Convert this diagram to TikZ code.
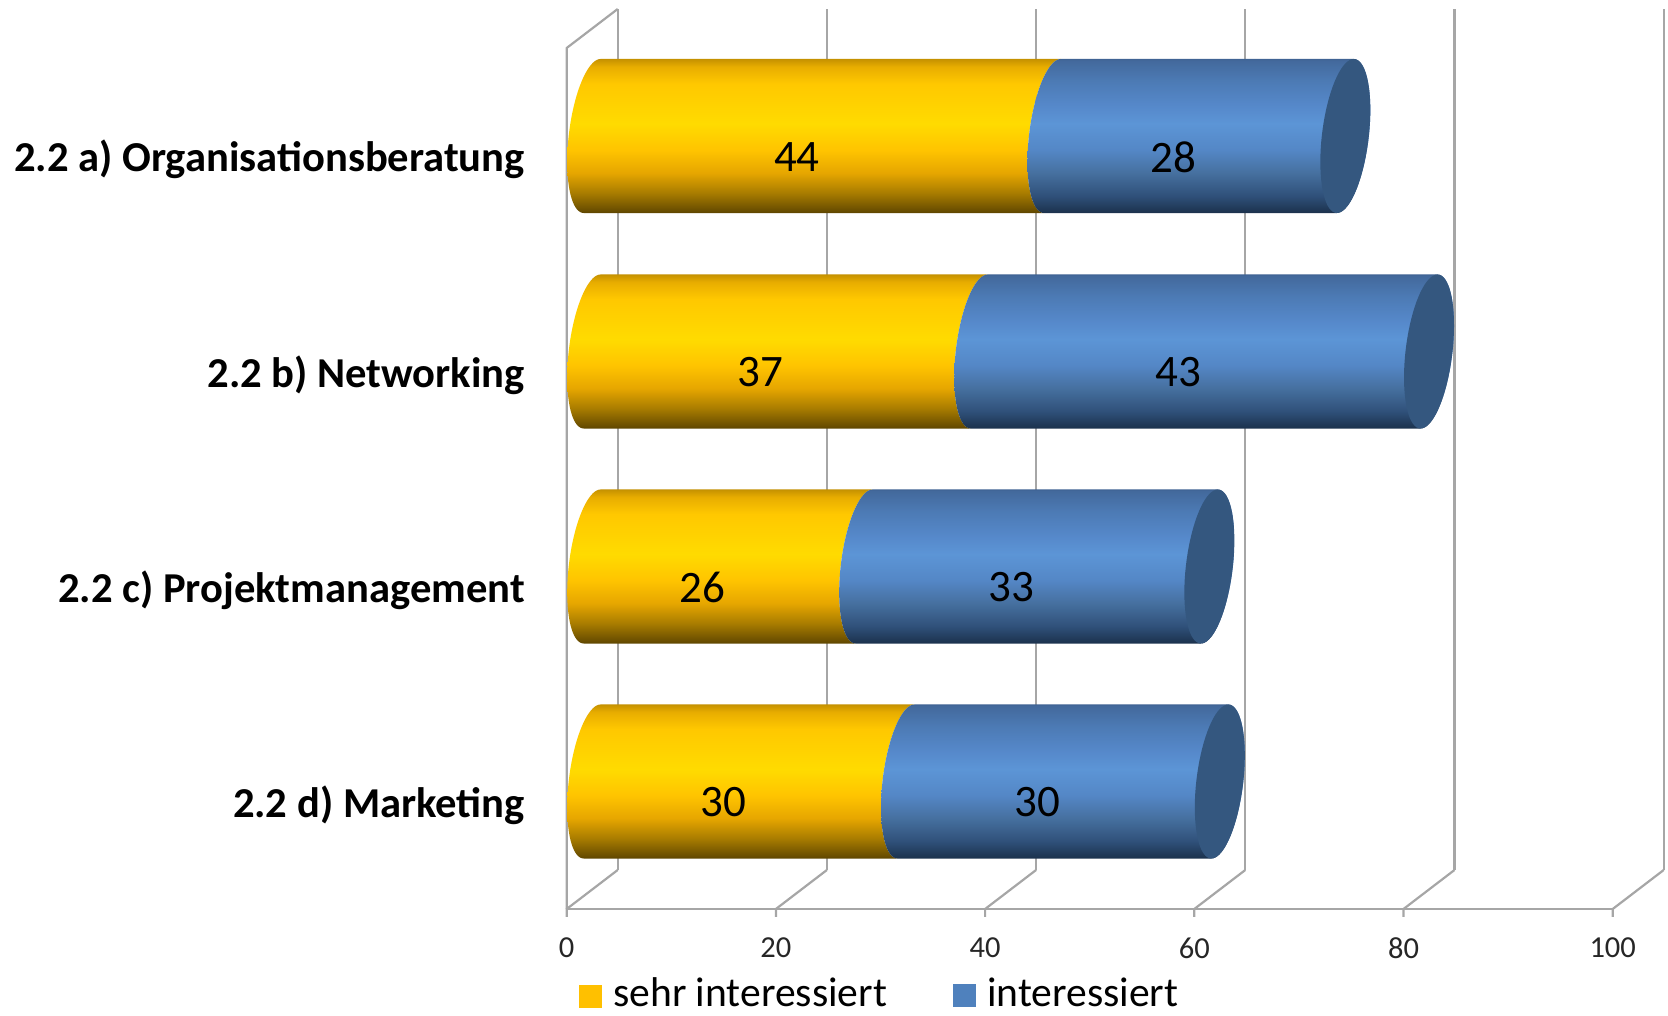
\documentclass[tikz,border=0pt]{standalone}
\usepackage{fontspec}
\setmainfont{Carlito}
\usepackage{xcolor}
\usepackage{tikz}
\usetikzlibrary{positioning, calc}
\definecolor{gridgray}{HTML}{A6A6A6}
\definecolor{sehrgold}{HTML}{FFC000}
\definecolor{interblue}{HTML}{4F81BD}
\definecolor{capblue}{HTML}{34577F}
\definecolor{goldA}{HTML}{5E4500}
\definecolor{goldB}{HTML}{6B4F00}
\definecolor{goldC}{HTML}{A87C00}
\definecolor{goldD}{HTML}{E6A600}
\definecolor{goldE}{HTML}{FFC400}
\definecolor{goldF}{HTML}{FFDB00}
\definecolor{goldG}{HTML}{FFC800}
\definecolor{goldH}{HTML}{E8AD00}
\definecolor{goldI}{HTML}{C59100}
\definecolor{blueA}{HTML}{1C324E}
\definecolor{blueB}{HTML}{1D3450}
\definecolor{blueC}{HTML}{2F5079}
\definecolor{blueD}{HTML}{46709F}
\definecolor{blueE}{HTML}{5487C6}
\definecolor{blueF}{HTML}{5C95D6}
\definecolor{blueG}{HTML}{5689CB}
\definecolor{blueH}{HTML}{4C7AB4}
\definecolor{blueI}{HTML}{43699C}
\definecolor{blueJ}{HTML}{3F6394}
\pgfdeclareverticalshading{goldcyl}{100bp}{color(0bp)=(goldA); color(25bp)=(goldA);
  color(26bp)=(goldB); color(31.5bp)=(goldC); color(38bp)=(goldD); color(45.5bp)=(goldE);
  color(54bp)=(goldF); color(67bp)=(goldG); color(72.5bp)=(goldH); color(75bp)=(goldI);
  color(100bp)=(goldI)}
\pgfdeclareverticalshading{bluecyl}{100bp}{color(0bp)=(blueA); color(25bp)=(blueA);
  color(25.5bp)=(blueB); color(30.5bp)=(blueC); color(38bp)=(blueD); color(45.5bp)=(blueE);
  color(54bp)=(blueF); color(59.5bp)=(blueG); color(68bp)=(blueH); color(74.5bp)=(blueI);
  color(75bp)=(blueJ); color(100bp)=(blueJ)}

\begin{document}
\begin{tikzpicture}[x=1pt, y=1pt,
    grid line/.style={draw=gridgray, line width=2.2pt, line join=round},
    value label/.style={font=\fontsize{45}{54}\selectfont},
    cat label/.style={font=\bfseries\fontsize{42.6}{50}\selectfont, anchor=base east, inner sep=0pt},
    tick label/.style={font=\fontsize{30.5}{36}\selectfont, text=black!85},
    legend label/.style={font=\fontsize{41.6}{50}\selectfont, anchor=base west, inner sep=0pt}]
  \useasboundingbox (0,0) rectangle (1668,1016);

  \foreach \v in {0,20,...,100} {
    \draw[grid line] ({617.7+10.46*\v},146) -- ({617.7+10.46*\v},1007);
    \draw[grid line] ({566.7+10.46*\v},99) -- ({566.7+10.46*\v},107) -- ({617.7+10.46*\v},146);
    \node[tick label] (tick-\v) at ({566.7+10.46*\v},68) {\v};
  }
  \draw[grid line] (566.7,107) -- (1612.7,107);
  \draw[grid line] (617.7,1007) -- (566.7,968) -- (566.7,107);

  \foreach \name/\first/\second/\yc/\cat in {a/44/28/880/2.2 a) Organisationsberatung,
      b/37/43/664.5/2.2 b) Networking, c/26/33/449.5/2.2 c) Projektmanagement,
      d/30/30/234.5/2.2 d) Marketing} {
    \pgfmathsetmacro\xs{592.2+10.46*\first}
    \pgfmathsetmacro\xe{592.2+10.46*(\first+\second)}
    \shade[shading=goldcyl]
      plot[domain=70.2:250.2, samples=41, variable=\t] ({592.2+25*cos(\t)}, {\yc+26*cos(\t)+72.5*sin(\t)})
      -- plot[domain=250.2:70.2, samples=41, variable=\t] ({\xs+25*cos(\t)}, {\yc+26*cos(\t)+72.5*sin(\t)})
      -- cycle;
    \shade[shading=bluecyl]
      plot[domain=70.2:250.2, samples=41, variable=\t] ({\xs+25*cos(\t)}, {\yc+26*cos(\t)+72.5*sin(\t)})
      -- plot[domain=250.2:430.2, samples=41, variable=\t] ({\xe+25*cos(\t)}, {\yc+26*cos(\t)+72.5*sin(\t)})
      -- cycle;
    \fill[capblue]
      plot[domain=0:360, samples=73, variable=\t] ({\xe+25*cos(\t)}, {\yc+26*cos(\t)+72.5*sin(\t)}) -- cycle;
    \node[value label] (val-\name-1) at ({566.7+10.46*\first/2}, \yc-21) {\first};
    \node[value label] (val-\name-2) at ({566.7+10.46*(\first+\second/2)}, \yc-21) {\second};
    \node[cat label] (cat-\name) at (525, \yc-36) {\cat};
  }

  \fill[sehrgold] (578.5,8) rectangle (601.5,31);
  \node[legend label] (leg-sehr) at (613,9.5) {sehr interessiert};
  \fill[interblue] (952.5,8.5) rectangle (975.5,31.5);
  \node[legend label] (leg-inter) at (987,9.5) {interessiert};
\end{tikzpicture}
\end{document}
